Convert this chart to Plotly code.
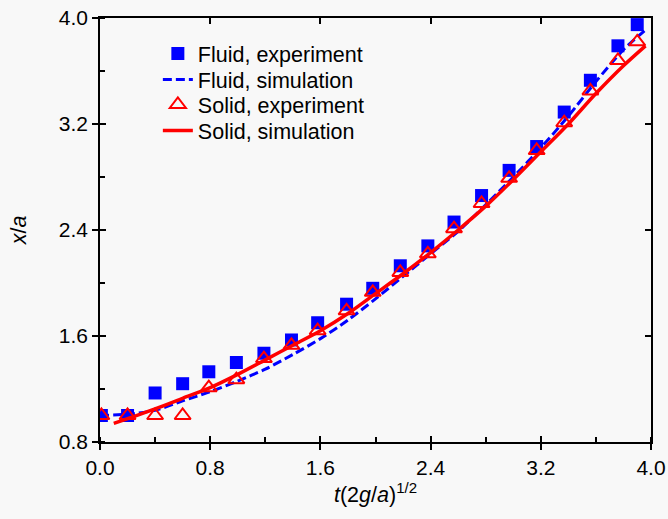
import plotly.graph_objects as go

# Fluid, experiment
fluid_exp_t = [0.01, 0.2, 0.4, 0.6, 0.79, 0.99, 1.19, 1.39, 1.58, 1.79, 1.98, 2.18, 2.38, 2.57, 2.77, 2.97, 3.17, 3.37, 3.56, 3.76, 3.90]
fluid_exp_x = [1.00, 1.00, 1.17, 1.24, 1.33, 1.40, 1.47, 1.57, 1.70, 1.84, 1.96, 2.13, 2.28, 2.46, 2.66, 2.85, 3.03, 3.29, 3.53, 3.79, 3.95]

# Fluid, simulation
fluid_sim_t = [0.0, 0.2, 0.4, 0.6, 0.8, 1.0, 1.2, 1.4, 1.6, 1.8, 2.0, 2.2, 2.4, 2.6, 2.8, 3.0, 3.2, 3.4, 3.6, 3.8, 3.96]
fluid_sim_x = [1.00, 1.01, 1.04, 1.11, 1.18, 1.26, 1.35, 1.46, 1.58, 1.72, 1.88, 2.05, 2.22, 2.39, 2.59, 2.80, 3.02, 3.26, 3.52, 3.76, 3.91]

# Solid, experiment
solid_exp_t = [0.01, 0.2, 0.4, 0.6, 0.79, 0.99, 1.19, 1.39, 1.58, 1.79, 1.98, 2.18, 2.38, 2.57, 2.77, 2.97, 3.17, 3.37, 3.56, 3.76, 3.90]
solid_exp_x = [1.00, 1.00, 1.00, 1.00, 1.21, 1.27, 1.43, 1.53, 1.64, 1.79, 1.93, 2.08, 2.22, 2.41, 2.60, 2.79, 3.00, 3.21, 3.45, 3.68, 3.82]

# Solid, simulation
solid_sim_t = [0.1, 0.4, 0.6, 0.8, 1.0, 1.2, 1.4, 1.6, 1.8, 2.0, 2.2, 2.4, 2.6, 2.8, 3.0, 3.2, 3.4, 3.6, 3.8, 3.96]
solid_sim_x = [0.94, 1.05, 1.13, 1.21, 1.31, 1.42, 1.53, 1.64, 1.77, 1.92, 2.07, 2.23, 2.40, 2.58, 2.78, 2.99, 3.20, 3.43, 3.64, 3.79]

x_ticks = [0.0, 0.8, 1.6, 2.4, 3.2, 4.0]
y_ticks = [0.8, 1.6, 2.4, 3.2, 4.0]
x_range = [0, 4]
y_range = [0.8, 4.0]

BLUE = "#0000ff"
RED = "#ff0000"
FONT = "Liberation Sans, Arial, sans-serif"

fig = go.Figure()
fig.add_trace(go.Scatter(x=fluid_exp_t, y=fluid_exp_x, mode="markers", name="Fluid, experiment",
                         legend="legend",
                         marker=dict(symbol="square", size=13, color=BLUE, line=dict(width=0))))
fig.add_trace(go.Scatter(x=fluid_sim_t, y=fluid_sim_x, mode="lines", name="Fluid, simulation",
                         legend="legend2",
                         line=dict(color=BLUE, width=3, dash="9px,4px", shape="spline", smoothing=0.8)))
fig.add_trace(go.Scatter(x=solid_exp_t, y=solid_exp_x, mode="markers", name="Solid, experiment",
                         legend="legend3",
                         marker=dict(symbol="triangle-up-open", size=14, color=RED, line=dict(width=2, color=RED))))
fig.add_trace(go.Scatter(x=solid_sim_t, y=solid_sim_x, mode="lines", name="Solid, simulation",
                         legend="legend4",
                         line=dict(color=RED, width=3.5, shape="spline", smoothing=0.8)))
# transparent copies so the frame axes (top/right and inner tick halves) get drawn
fig.add_trace(go.Scatter(x=fluid_exp_t, y=fluid_exp_x, xaxis="x2", yaxis="y2", mode="markers",
                         marker=dict(opacity=0), showlegend=False, hoverinfo="skip"))
fig.add_trace(go.Scatter(x=fluid_exp_t, y=fluid_exp_x, xaxis="x3", yaxis="y3", mode="markers",
                         marker=dict(opacity=0), showlegend=False, hoverinfo="skip"))

tk = dict(tickwidth=1.5, tickcolor="black", showgrid=False, zeroline=False, automargin=False)

leg_common = dict(x=0.105, xanchor="left", yanchor="middle", bgcolor="rgba(0,0,0,0)",
                  font=dict(size=21.5, family=FONT, color="black"), itemwidth=30)

fig.update_layout(
    width=668, height=519,
    margin=dict(l=100, r=17, t=18, b=77, autoexpand=False),
    paper_bgcolor="#f8f8f8", plot_bgcolor="#f8f8f8",
    font=dict(family=FONT, size=21, color="black"),
    showlegend=True,
    legend=dict(y=0.9163, **leg_common),
    legend2=dict(y=0.8550, **leg_common),
    legend3=dict(y=0.7960, **leg_common),
    legend4=dict(y=0.7347, **leg_common),
    xaxis=dict(range=x_range, tickvals=x_ticks, tickformat=".1f", ticks="outside", ticklen=6,
               showline=True, linecolor="black", linewidth=1.5,
               minor=dict(ticks="inside", dtick=0.4, tick0=0, ticklen=5, tickwidth=1.5, tickcolor="black"),
               title=dict(text="<i>t</i>(2<i>g</i>/<i>a</i>)<sup>1/2</sup>", font=dict(size=21.5), standoff=6),
               **tk),
    yaxis=dict(range=y_range, tickvals=y_ticks, tickformat=".1f", ticks="outside", ticklen=6,
               showline=True, linecolor="black", linewidth=1.5,
               minor=dict(ticks="inside", dtick=0.4, tick0=0.8, ticklen=5, tickwidth=1.5, tickcolor="black"),
               title=dict(text="<i>x</i>/<i>a</i>", font=dict(size=21.5), standoff=26),
               **tk),
    xaxis2=dict(range=x_range, tickvals=x_ticks, overlaying="x", side="top", anchor="y2",
                ticks="inside", ticklen=6, showticklabels=False,
                showline=True, linecolor="black", linewidth=1.5, **tk),
    yaxis2=dict(range=y_range, tickvals=y_ticks, overlaying="y", side="right", anchor="x2",
                ticks="inside", ticklen=6, showticklabels=False,
                showline=True, linecolor="black", linewidth=1.5, **tk),
    xaxis3=dict(range=x_range, tickvals=x_ticks, overlaying="x", side="bottom", anchor="y3",
                ticks="inside", ticklen=6, showticklabels=False, showline=False, **tk),
    yaxis3=dict(range=y_range, tickvals=y_ticks, overlaying="y", side="left", anchor="x3",
                ticks="inside", ticklen=6, showticklabels=False, showline=False, **tk),
)

fig.write_html("out.html", config={"displayModeBar": False},
               post_script="document.body.style.margin='0px';")
